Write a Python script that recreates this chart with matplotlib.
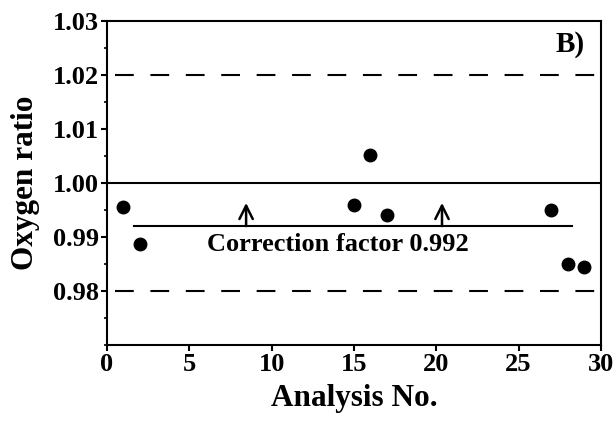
import numpy as np
import matplotlib.pyplot as plt
from matplotlib.ticker import MultipleLocator

plt.rcParams['font.family'] = ['Liberation Serif', 'DejaVu Serif']
plt.rcParams['font.weight'] = 'bold'

# data
analysis_no = [1, 2, 15, 16, 17, 27, 28, 29]
oxygen_ratio = [0.9955, 0.9887, 0.9960, 1.0052, 0.9941, 0.9950, 0.9849, 0.9845]
upper_limit = 1.02
lower_limit = 0.98
reference = 1.00
correction = 0.992
corr_span = [1.65, 28.25]
arrow_x = [8.45, 20.35]
arrow_top = 0.9963
y_ticks = [0.98, 0.99, 1.00, 1.01, 1.02, 1.03]
x_ticks = [0, 5, 10, 15, 20, 25, 30]

fig = plt.figure(figsize=(6.15, 4.21), dpi=100)
ax = fig.add_axes([0.174, 0.181, 0.803, 0.769])

ax.plot(analysis_no, oxygen_ratio, 'o', color='black', markersize=9, zorder=3)

ax.axhline(reference, color='black', lw=1.5)
ax.plot([0.5, 30], [upper_limit, upper_limit], color='black', lw=1.5, dashes=(9, 8))
ax.plot([0.5, 30], [lower_limit, lower_limit], color='black', lw=1.5, dashes=(9, 8))

# correction factor line and arrows
ax.plot(corr_span, [correction, correction], color='black', lw=1.5)
for xa in arrow_x:
    ax.annotate('', xy=(xa, arrow_top), xytext=(xa, correction),
                arrowprops=dict(arrowstyle='->', color='black', lw=1.8,
                                mutation_scale=24, shrinkA=0, shrinkB=0))
ax.text(14.0, 0.9885, 'Correction factor 0.992', ha='center', va='center',
        fontsize=19, fontweight='bold')
ax.text(29.0, 1.0256, 'B)', ha='right', va='center', fontsize=21, fontweight='bold')

ax.set_xlim(0, 30)
ax.set_ylim(0.97, 1.03)
ax.set_xticks(x_ticks)
ax.set_yticks(y_ticks)
ax.set_yticklabels([f'{v:.2f}' for v in y_ticks])
ax.yaxis.set_minor_locator(MultipleLocator(0.005))
ax.tick_params(axis='both', which='major', labelsize=19, length=4, width=1.5, pad=2)
ax.tick_params(axis='y', which='minor', length=2.5, width=1.2)
for lab in ax.get_xticklabels() + ax.get_yticklabels():
    lab.set_fontweight('bold')
for sp in ax.spines.values():
    sp.set_linewidth(1.5)

ax.set_xlabel('Analysis No.', fontsize=22.5, fontweight='bold', va='center')
ax.set_ylabel('Oxygen ratio', fontsize=22.5, fontweight='bold', va='center')
ax.xaxis.set_label_coords(0.5, -0.167)
ax.yaxis.set_label_coords(-0.166, 0.5)

fig.savefig('out.png', dpi=100)
